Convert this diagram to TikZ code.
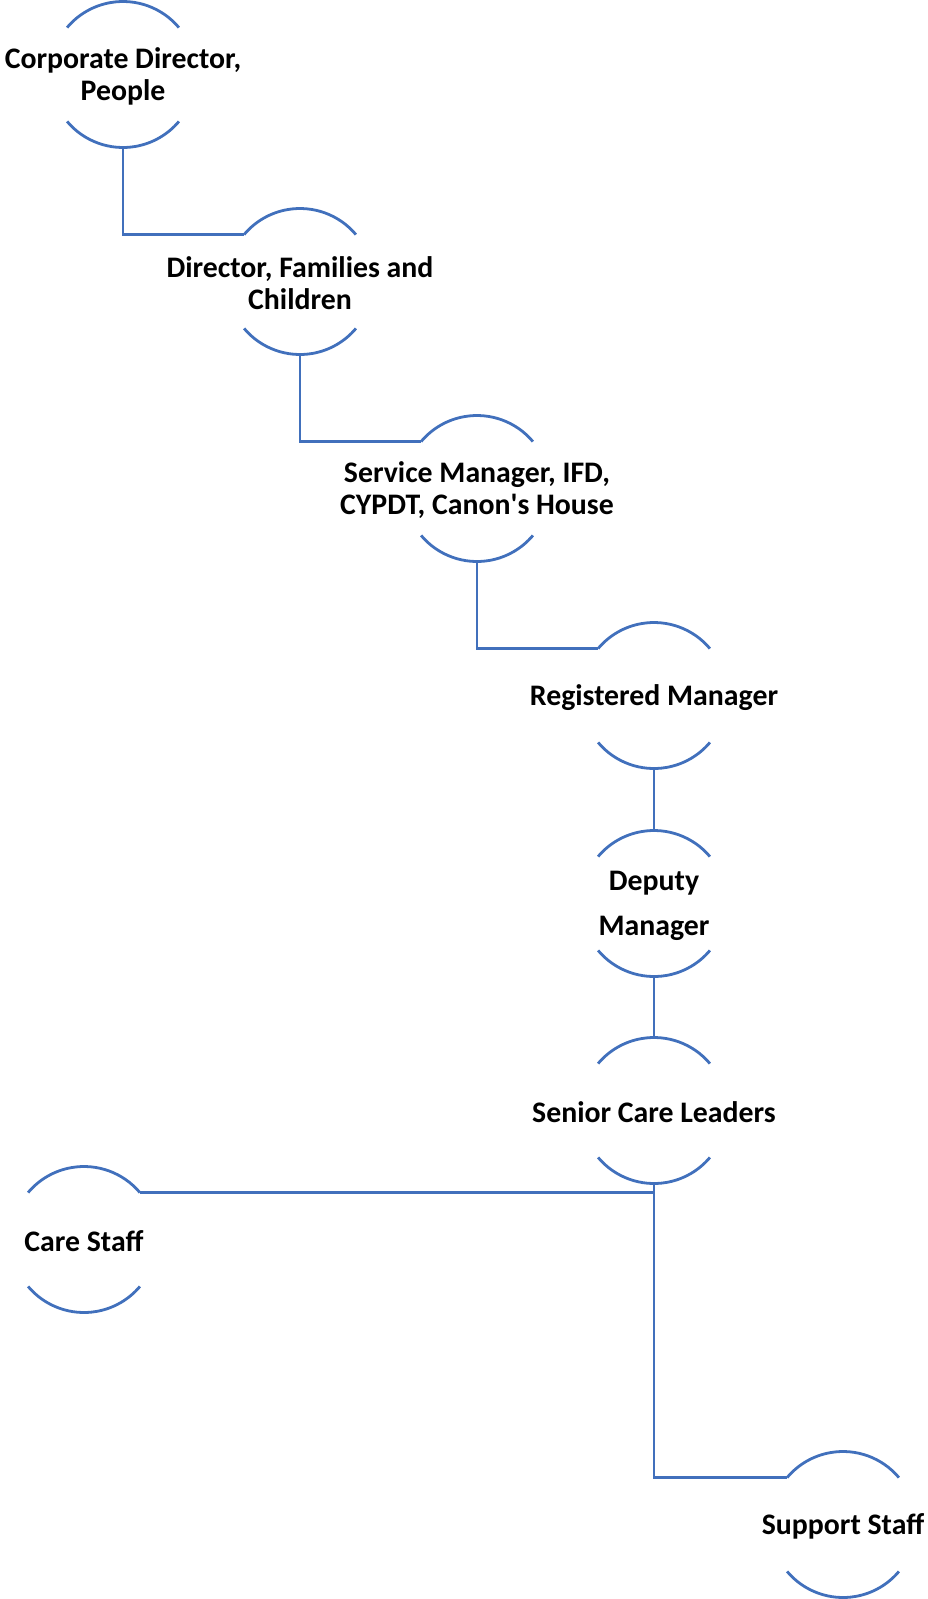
\documentclass[tikz,border=0pt]{standalone}
\usepackage{fontspec}
\setmainfont{Carlito}
\usepackage{tikz}
\usetikzlibrary{trees}
\definecolor{linkblue}{HTML}{4170BC}
\tikzstyle{role}=[circle,minimum size=146pt,inner sep=0pt,outer sep=0pt]
\tikzstyle{roletext}=[font=\fontsize{29.8}{32}\selectfont\bfseries,align=center,inner sep=0pt,yshift=-2pt]
\tikzstyle{ring}=[draw=linkblue,line width=2.8pt]
\tikzstyle{link}=[draw=linkblue,line width=2.8pt]

\begin{document}
\begin{tikzpicture}[x=1pt,y=1pt,
  grow via three points={one child at (177,-207) and
  two children at (177,-207) and (177,-414)},
  edge from parent/.style={link},
  edge from parent path={(\tikzparentnode.south) |- (\tikzchildnode.140)},
  level 4/.style={grow via three points={one child at (0,-208) and
    two children at (0,-208) and (0,-416)},
    edge from parent path={(\tikzparentnode.south) -- (\tikzchildnode.north)}},
  level 5/.style={grow via three points={one child at (0,-207) and
    two children at (0,-207) and (0,-414)},
    edge from parent path={(\tikzparentnode.south) -- (\tikzchildnode.north)}},
  level 6/.style={grow via three points={one child at (0,-207) and
    two children at (-570,-129) and (189,-414)},
    edge from parent path={(\tikzparentnode.south) |- (\tikzchildnode.140)}}]
  \useasboundingbox (0,0) rectangle (927,-1599);
  \node [role,label={[roletext]center:{Corporate Director,\\People}}] (cdir) at (123,-74.5) {}
    child { node [role,label={[roletext]center:{Director, Families and\\Children}}] (dfc) {}
      child { node [role,label={[roletext]center:{Service Manager, IFD,\\CYPDT, Canon\textquotesingle s House}}] (smgr) {}
        child { node [role,label={[roletext]center:{Registered Manager}}] (rmgr) {}
          child { node [role,label={[roletext]center:{Deputy\\[13pt]Manager}}] (dmgr) {}
            child { node [role,label={[roletext]center:{Senior Care Leaders}}] (scl) {}
              child [edge from parent path={(\tikzparentnode.south) |- (\tikzchildnode.40)}]
                { node [role,label={[roletext]center:{Care Staff}}] (care) {}}
              child { node [role,label={[roletext]center:{Support Staff}}] (support) {}}
            }
          }
        }
      }
    };
  % open rings round each role
  \foreach \n in {cdir,dfc,smgr,rmgr,dmgr,scl,care,support} {
    \draw [ring] (\n.40) arc [start angle=40,end angle=140,radius=73pt];
    \draw [ring] (\n.220) arc [start angle=220,end angle=320,radius=73pt];
  }
\end{tikzpicture}
\end{document}
